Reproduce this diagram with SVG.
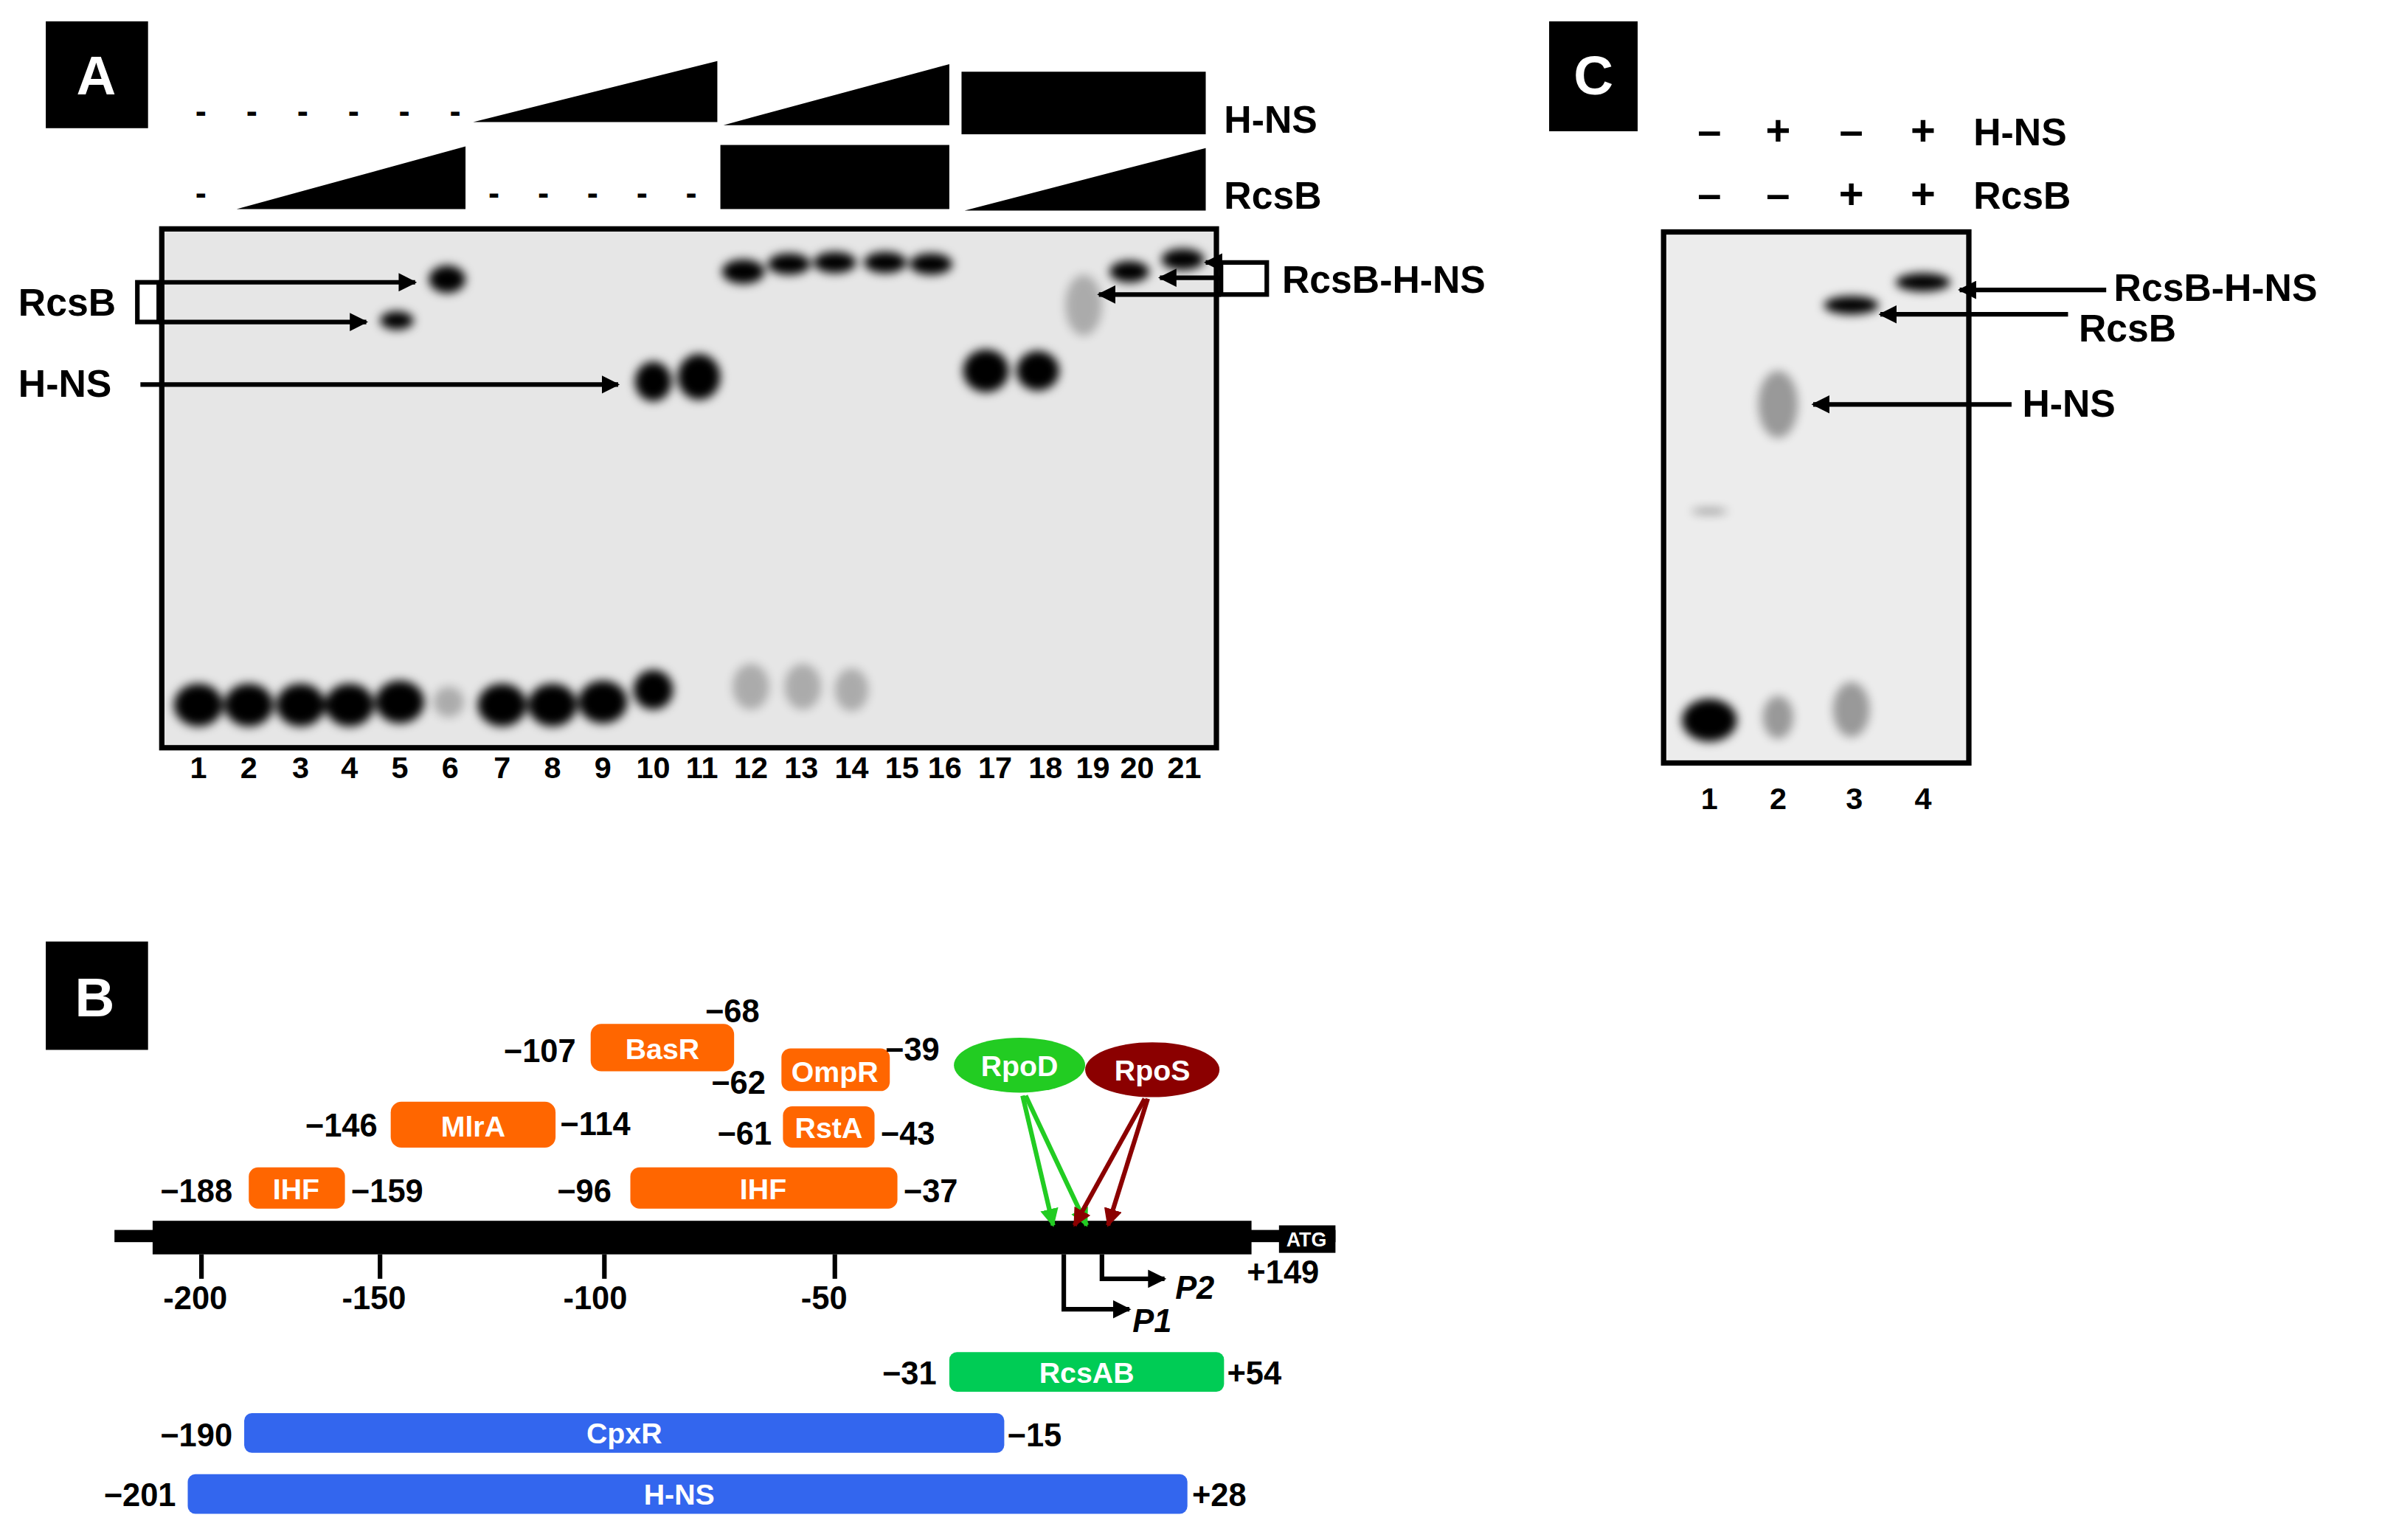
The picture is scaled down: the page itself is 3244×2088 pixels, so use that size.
<svg xmlns="http://www.w3.org/2000/svg" width="3244" height="2088" viewBox="0 0 3244 2088">
<defs>
<style>
.t{font-family:"Liberation Sans",Arial,sans-serif;font-weight:bold;fill:#000}
.lb{font-size:25px}
.ln{font-size:20px;text-anchor:middle}
.n{font-family:"Liberation Sans Narrow","Liberation Sans",sans-serif;font-weight:bold;font-size:21px}
.w{fill:#fff;font-family:"Liberation Sans",sans-serif;font-weight:bold;text-anchor:middle}
.ar{stroke:#000;stroke-width:3;fill:none;marker-end:url(#ah)}
.b{fill:#000;filter:url(#bl)}
</style>
<marker id="ah" viewBox="0 0 10 10" refX="9" refY="5" markerWidth="4" markerHeight="4" orient="auto"><path d="M0,0L10,5L0,10z" fill="#000"/></marker>
<marker id="ag" viewBox="0 0 10 10" refX="9" refY="5" markerWidth="4" markerHeight="4" orient="auto"><path d="M0,0L10,5L0,10z" fill="#2c2"/></marker>
<marker id="ard" viewBox="0 0 10 10" refX="9" refY="5" markerWidth="4" markerHeight="4" orient="auto"><path d="M0,0L10,5L0,10z" fill="#8b0000"/></marker>
<filter id="bl" x="-50%" y="-50%" width="200%" height="200%"><feGaussianBlur stdDeviation="3"/></filter>
</defs>
<rect width="3244" height="2088" fill="#fff"/>
<g transform="scale(2.069)">
<g id="panelA">
<rect x="30" y="14" width="67" height="70" fill="#000"/><text x="63" y="62" class="w" font-size="36">A</text>
<text x="128" y="80" class="t" font-size="22" letter-spacing="26">------</text>
<polygon points="310,80 470,40 470,80" fill="#000"/>
<polygon points="474,82 622,42 622,82" fill="#000"/>
<rect x="630" y="47" width="160" height="41" fill="#000"/>
<text x="802" y="87" class="t lb">H-NS</text>
<text x="128" y="134" class="t" font-size="22">-</text>
<polygon points="155,137 305,96 305,137" fill="#000"/>
<text x="320" y="134" class="t" font-size="22" letter-spacing="25">-----</text>
<rect x="472" y="95" width="150" height="42" fill="#000"/>
<polygon points="632,138 790,97 790,138" fill="#000"/>
<text x="802" y="137" class="t lb">RcsB</text>
<g id="gelA">
<rect x="106" y="150" width="691" height="340" fill="#e6e6e6" stroke="#000" stroke-width="3.5"/>
<g class="b">
<ellipse cx="130" cy="462" rx="16" ry="14"/><ellipse cx="163" cy="462" rx="16" ry="14"/><ellipse cx="197" cy="462" rx="16" ry="14"/><ellipse cx="229" cy="462" rx="16" ry="14"/><ellipse cx="262" cy="460" rx="16" ry="14"/>
<ellipse cx="329" cy="462" rx="16" ry="14"/><ellipse cx="362" cy="462" rx="16" ry="14"/><ellipse cx="395" cy="460" rx="16" ry="14"/><ellipse cx="428" cy="452" rx="13" ry="13"/>
<ellipse cx="260" cy="210" rx="11" ry="6"/><ellipse cx="293" cy="183" rx="12" ry="9"/>
<ellipse cx="428" cy="250" rx="12" ry="13"/><ellipse cx="458" cy="247" rx="14" ry="15"/>
<ellipse cx="487" cy="178" rx="14" ry="8"/><ellipse cx="517" cy="173" rx="14" ry="7"/><ellipse cx="547" cy="172" rx="14" ry="7"/><ellipse cx="580" cy="172" rx="14" ry="7"/><ellipse cx="610" cy="173" rx="14" ry="7"/>
<ellipse cx="646" cy="243" rx="15" ry="14"/><ellipse cx="680" cy="243" rx="14" ry="13"/><ellipse cx="740" cy="178" rx="13" ry="7"/><ellipse cx="775" cy="170" rx="14" ry="7"/>
</g>
<g fill="#000" opacity="0.25" filter="url(#bl)"><ellipse cx="492" cy="450" rx="12" ry="15"/><ellipse cx="526" cy="450" rx="12" ry="15"/><ellipse cx="558" cy="452" rx="11" ry="14"/><ellipse cx="294" cy="460" rx="10" ry="10"/><ellipse cx="710" cy="200" rx="12" ry="20"/></g>
</g>
<g class="t ln"><text x="130" y="510">1</text><text x="163" y="510">2</text><text x="197" y="510">3</text><text x="229" y="510">4</text><text x="262" y="510">5</text><text x="295" y="510">6</text><text x="329" y="510">7</text><text x="362" y="510">8</text><text x="395" y="510">9</text><text x="428" y="510">10</text><text x="460" y="510">11</text><text x="492" y="510">12</text><text x="525" y="510">13</text><text x="558" y="510">14</text><text x="591" y="510">15</text><text x="619" y="510">16</text><text x="652" y="510">17</text><text x="685" y="510">18</text><text x="716" y="510">19</text><text x="745" y="510">20</text><text x="776" y="510">21</text></g>
<text x="12" y="207" class="t lb">RcsB</text>
<rect x="90" y="185" width="14" height="26" fill="none" stroke="#000" stroke-width="3"/>
<text x="12" y="260" class="t lb">H-NS</text>
<text x="840" y="192" class="t lb">RcsB-H-NS</text>
<rect x="800" y="172" width="30" height="21" fill="none" stroke="#000" stroke-width="3"/>
</g>
<g id="panelC">
<rect x="1015" y="14" width="58" height="72" fill="#000"/><text x="1044" y="62" class="w" font-size="36">C</text>
<g class="t" font-size="28" text-anchor="middle"><text x="1120" y="95">–</text><text x="1165" y="95">+</text><text x="1213" y="95">–</text><text x="1260" y="95">+</text>
<text x="1120" y="137">–</text><text x="1165" y="137">–</text><text x="1213" y="137">+</text><text x="1260" y="137">+</text></g>
<text x="1293" y="95" class="t lb">H-NS</text><text x="1293" y="137" class="t lb">RcsB</text>
<rect x="1090" y="152" width="200" height="348" fill="#ececec" stroke="#000" stroke-width="3.5"/>
<g class="b"><ellipse cx="1120" cy="472" rx="18" ry="14"/><ellipse cx="1213" cy="200" rx="18" ry="6"/><ellipse cx="1260" cy="185" rx="18" ry="6"/></g>
<g fill="#000" opacity="0.35" filter="url(#bl)"><ellipse cx="1165" cy="265" rx="13" ry="22"/><ellipse cx="1213" cy="465" rx="12" ry="18"/><ellipse cx="1165" cy="470" rx="10" ry="14"/><ellipse cx="1120" cy="335" rx="12" ry="2"/></g>
<g class="t" font-size="20" text-anchor="middle"><text x="1120" y="530">1</text><text x="1165" y="530">2</text><text x="1215" y="530">3</text><text x="1260" y="530">4</text></g>
<text x="1385" y="197" class="t lb">RcsB-H-NS</text><text x="1362" y="224" class="t lb">RcsB</text><text x="1325" y="273" class="t lb">H-NS</text>
</g>
<g id="panelB">
<rect x="30" y="617" width="67" height="71" fill="#000"/><text x="62" y="666" class="w" font-size="36">B</text>
<rect x="75" y="806" width="800" height="8" fill="#000"/>
<rect x="100" y="800" width="720" height="22" fill="#000"/>
<rect x="838" y="803" width="37" height="18" fill="#000"/><text x="856" y="817" class="w" font-size="13">ATG</text>
<g stroke="#000" stroke-width="3"><line x1="132" y1="822" x2="132" y2="838"/><line x1="249" y1="822" x2="249" y2="838"/><line x1="396" y1="822" x2="396" y2="838"/><line x1="547" y1="822" x2="547" y2="838"/></g>
<g class="n" text-anchor="middle"><text x="128" y="858">-200</text><text x="245" y="858">-150</text><text x="390" y="858">-100</text><text x="540" y="858">-50</text></g>
<g fill="#ff6600">
<rect x="163" y="765" width="63" height="27" rx="6"/><rect x="413" y="765" width="175" height="27" rx="6"/>
<rect x="256" y="722" width="108" height="30" rx="7"/><rect x="387" y="671" width="94" height="31" rx="7"/>
<rect x="512" y="687" width="71" height="28" rx="6"/><rect x="513" y="725" width="60" height="27" rx="6"/></g>
<g class="w" font-size="19"><text x="194" y="786">IHF</text><text x="500" y="786">IHF</text><text x="310" y="745">MlrA</text><text x="434" y="694">BasR</text><text x="547" y="709">OmpR</text><text x="543" y="746">RstA</text></g>
<ellipse cx="668" cy="698" rx="43" ry="18" fill="#22cc22"/><text x="668" y="705" class="w" font-size="19">RpoD</text>
<ellipse cx="755" cy="701" rx="44" ry="18" fill="#8b0000"/><text x="755" y="708" class="w" font-size="19">RpoS</text>
<g class="n"><text x="105" y="788">−188</text><text x="230" y="788">−159</text><text x="365" y="788">−96</text><text x="592" y="788">−37</text>
<text x="200" y="745">−146</text><text x="367" y="744">−114</text><text x="330" y="696">−107</text><text x="462" y="670">−68</text>
<text x="466" y="717">−62</text><text x="580" y="695">−39</text><text x="470" y="750">−61</text><text x="577" y="750">−43</text>
<text x="817" y="841">+149</text><text x="578" y="907">−31</text><text x="804" y="907">+54</text><text x="105" y="948">−190</text><text x="660" y="948">−15</text><text x="68" y="987">−201</text><text x="781" y="987">+28</text></g>
<text x="742" y="873" class="n" font-style="italic">P1</text><text x="770" y="851" class="n" font-style="italic">P2</text>
<rect x="622" y="886" width="180" height="26" rx="5" fill="#00cc55"/><text x="712" y="906" class="w" font-size="19">RcsAB</text>
<rect x="160" y="926" width="498" height="26" rx="5" fill="#3366ee"/><text x="409" y="946" class="w" font-size="19">CpxR</text>
<rect x="123" y="966" width="655" height="26" rx="5" fill="#3366ee"/><text x="445" y="986" class="w" font-size="19">H-NS</text>
</g>
<g id="connectors">
<line x1="104" y1="185" x2="272" y2="185" class="ar"/>
<line x1="104" y1="211" x2="240" y2="211" class="ar"/>
<line x1="92" y1="252" x2="405" y2="252" class="ar"/>
<line x1="800" y1="172" x2="790" y2="172" class="ar"/>
<line x1="800" y1="182" x2="760" y2="182" class="ar"/>
<line x1="800" y1="193" x2="720" y2="193" class="ar"/>
<line x1="1380" y1="190" x2="1284" y2="190" class="ar" stroke-width="2.5"/>
<line x1="1355" y1="206" x2="1232" y2="206" class="ar" stroke-width="2.5"/>
<line x1="1318" y1="265" x2="1188" y2="265" class="ar" stroke-width="2.5"/>
<line x1="670" y1="718" x2="690" y2="803" stroke="#2c2" stroke-width="3" marker-end="url(#ag)"/>
<line x1="672" y1="718" x2="712" y2="803" stroke="#2c2" stroke-width="3" marker-end="url(#ag)"/>
<line x1="750" y1="720" x2="704" y2="803" stroke="#8b0000" stroke-width="3" marker-end="url(#ard)"/>
<line x1="752" y1="720" x2="726" y2="803" stroke="#8b0000" stroke-width="3" marker-end="url(#ard)"/>
<polyline points="697,822 697,858 740,858" class="ar" stroke-width="4"/>
<polyline points="722,822 722,838 763,838" class="ar" stroke-width="4"/>
</g>
</g>
</svg>
